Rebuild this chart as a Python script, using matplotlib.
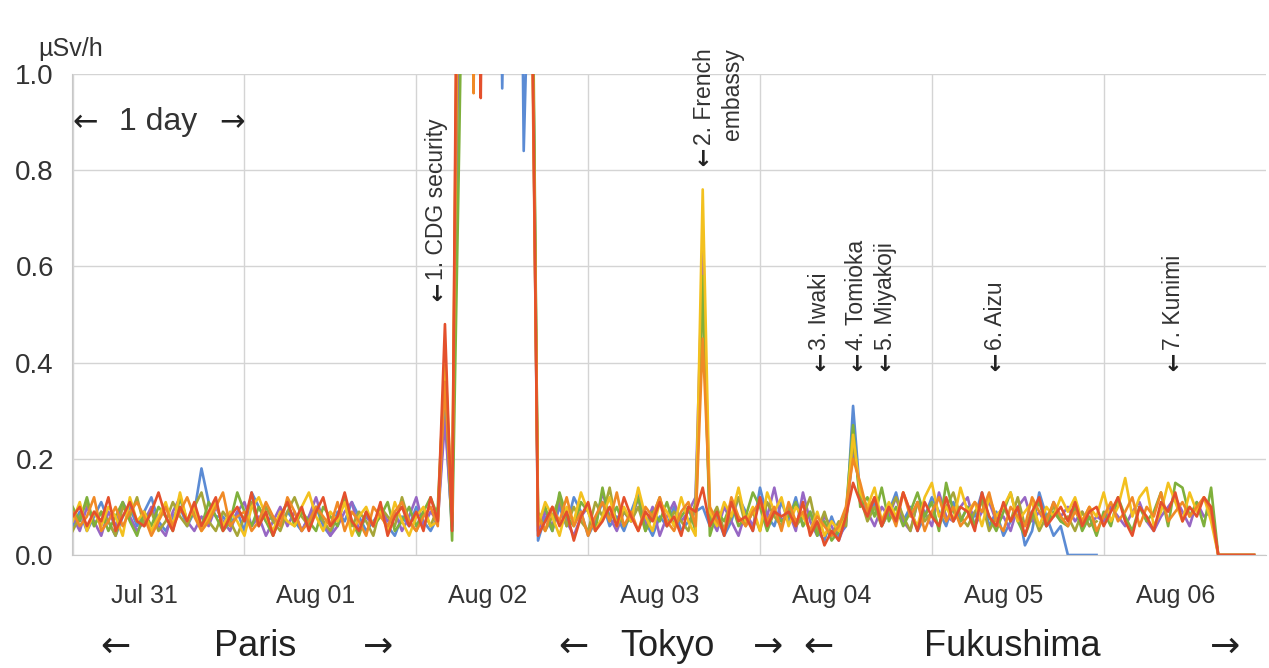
#!/usr/bin/env python3
import numpy as np
import matplotlib
matplotlib.use('Agg')
from matplotlib import pyplot as plt
import matplotlib.dates as mdates

# dose rate readings, hourly from Jul 31 00:00, in hundredths of uSv/h
# segments: Paris | CDG | flight | Tokyo | Fukushima
blue = ([6, 9, 5, 8, 11, 7, 4, 8, 10, 6, 9, 12, 7, 5, 8, 10, 6, 9, 18, 11,
         8, 8, 6, 9, 5, 13, 10, 7, 8, 6, 9, 7, 5, 8, 10, 6, 4, 9, 7, 11,
         8, 5, 7, 9, 6, 4, 8, 6, 10, 7, 5, 8]
        + [30, 5]
        + [150, 200, 250, 220, 190, 210, 97, 180, 240, 84, 140]
        + [3, 8, 5, 10, 6, 12, 9, 4, 7, 11, 6, 8, 5, 9, 13, 7, 4, 8, 6, 10, 5, 7, 9,
           10, 6, 8, 4, 7, 12, 9, 5, 14, 8, 6, 11]
        + [7, 12, 6, 9, 5, 3, 8, 4, 6, 31, 12,
           8, 11, 6, 9, 13, 7, 10, 5, 8, 12, 9, 6, 11, 7, 10, 8, 13, 6, 9, 4,
           7, 10, 2, 5, 13, 8, 4, 6, 0, 0, 0, 0, 0] + [None] * 22)
purple = ([8, 5, 10, 7, 4, 9, 6, 11, 8, 5, 7, 10, 6, 4, 9, 12, 7, 5, 8, 6,
           10, 7, 5, 9, 11, 6, 8, 4, 7, 10, 6, 9, 5, 8, 12, 7, 4, 6, 9, 11,
           5, 8, 6, 10, 7, 9, 5, 8, 12, 6, 9, 7]
          + [28, 6]
          + [120, 230, 260, 210, 240, 200, 230, 250, 220, 190, 150]
          + [5, 9, 6, 11, 7, 4, 8, 10, 6, 13, 8, 5, 9, 7, 12, 6, 10, 4, 8, 11, 7, 9, 12,
             63, 8, 5, 10, 7, 4, 9, 6, 12, 8, 14, 7]
          + [9, 5, 13, 7, 4, 8, 6, 3, 7, 22, 14,
             9, 6, 10, 8, 12, 7, 5, 11, 9, 6, 13, 8, 7, 10, 12, 6, 9, 11, 7, 8,
             5, 10, 12, 7, 9, 6, 11, 8, 10, 7, 9, 6, 8,
             7, 10, 8, 6, 9, 11, 7, 5, 8, 10, 12, 9, 6, 11, 8, 9, 0, 0, 0, 0, 0, 0])
green = ([10, 7, 12, 6, 9, 5, 8, 11, 7, 4, 9, 6, 10, 8, 5, 12, 7, 9, 6, 11,
          8, 5, 7, 13, 9, 6, 10, 7, 4, 8, 11, 6, 9, 7, 5, 10, 8, 6, 12, 7,
          4, 9, 6, 8, 11, 5, 7, 10, 6, 9, 12, 8]
         + [38, 3]
         + [86, 180, 240, 200, 260, 220, 190, 250, 230, 210, 160]
         + [7, 10, 5, 13, 8, 6, 11, 9, 5, 14, 7, 10, 6, 8, 12, 5, 9, 7, 11, 6, 8, 10, 5,
            58, 4, 9, 7, 11, 6, 8, 13, 10, 5, 9, 7]
         + [8, 11, 6, 9, 4, 7, 3, 5, 9, 27, 10,
            12, 8, 14, 7, 10, 6, 9, 13, 8, 11, 5, 15, 9, 7, 10, 6, 12, 8, 5, 9,
            13, 7, 4, 8, 11, 6, 9, 7, 6, 10, 5, 8, 4,
            9, 6, 12, 8, 5, 10, 7, 9, 13, 6, 15, 14, 8, 11, 6, 14, 0, 0, 0, 0, 0, 0])
olive = ([5, 8, 11, 6, 9, 7, 4, 10, 8, 12, 6, 9, 5, 7, 11, 8, 6, 10, 13, 7,
          5, 9, 7, 4, 8, 11, 6, 10, 7, 5, 9, 12, 8, 6, 10, 7, 5, 8, 11, 6,
          9, 7, 4, 10, 8, 6, 12, 7, 5, 9, 6, 10]
         + [40, 8]
         + [140, 210, 230, 250, 200, 240, 210, 230, 260, 220, 150]
         + [9, 5, 8, 12, 6, 10, 7, 5, 11, 8, 14, 6, 9, 7, 10, 5, 8, 12, 6, 9, 7, 5, 11,
            55, 7, 10, 5, 8, 12, 6, 9, 5, 11, 8, 6]
         + [10, 6, 8, 12, 5, 9, 4, 7, 6, 24, 12,
            7, 10, 6, 9, 12, 8, 5, 11, 7, 9, 6, 10, 13, 8, 6, 9, 11, 5, 8, 10,
            7, 12, 6, 9, 5, 8, 10, 7, 8, 5, 9, 6, 7] + [None] * 22)
yellow = ([7, 11, 5, 9, 6, 10, 8, 4, 12, 7, 9, 5, 8, 11, 6, 13, 7, 10, 5, 8,
           11, 6, 9, 7, 4, 10, 12, 8, 5, 9, 7, 6, 10, 13, 8, 5, 9, 7, 11, 4,
           8, 10, 6, 9, 5, 11, 7, 4, 8, 10, 6, 7]
          + [42, 9]
          + [170, 230, 200, 250, 220, 190, 240, 210, 230, 200, 140]
          + [6, 11, 8, 4, 10, 7, 13, 9, 5, 8, 12, 6, 10, 7, 14, 8, 5, 11, 9, 6, 12, 7, 4,
             76, 9, 6, 11, 8, 14, 7, 10, 5, 13, 9, 12]
          + [6, 10, 8, 5, 9, 4, 7, 5, 8, 25, 13,
             10, 14, 7, 11, 8, 13, 9, 6, 12, 15, 8, 10, 7, 14, 9, 11, 6, 12, 8, 10,
             13, 7, 9, 11, 6, 10, 8, 12, 9, 12, 7, 10, 8,
             13, 7, 10, 16, 8, 12, 14, 6, 9, 15, 11, 7, 13, 9, 12, 7, 0, 0, 0, 0, 0, 0])
orange = ([9, 6, 8, 12, 5, 7, 10, 6, 9, 11, 8, 4, 7, 10, 6, 9, 12, 8, 5, 7,
           10, 13, 6, 8, 9, 5, 7, 11, 8, 6, 12, 9, 5, 7, 10, 8, 6, 11, 5, 9,
           7, 4, 10, 8, 6, 9, 11, 7, 5, 8, 10, 6]
          + [36, 7]
          + [160, 220, 96, 240, 210, 250, 200, 230, 210, 240, 130]
          + [8, 5, 10, 7, 12, 6, 9, 4, 8, 11, 7, 13, 6, 9, 5, 10, 8, 12, 7, 5, 9, 11, 6,
             45, 10, 7, 5, 12, 8, 6, 9, 11, 7, 10, 5]
          + [11, 7, 9, 5, 8, 6, 4, 6, 10, 20, 15,
             9, 12, 7, 10, 6, 13, 8, 11, 5, 9, 12, 7, 10, 6, 8, 11, 9, 13, 7, 5,
             10, 8, 6, 12, 9, 7, 11, 8, 6, 9, 7, 10, 5,
             8, 11, 7, 9, 12, 6, 10, 8, 13, 7, 9, 11, 8, 10, 12, 9, 0, 0, 0, 0, 0, 0])
red = ([8, 10, 6, 9, 7, 12, 5, 8, 11, 7, 6, 9, 13, 8, 5, 10, 7, 11, 6, 9,
        12, 5, 8, 10, 7, 13, 6, 9, 4, 8, 11, 7, 10, 5, 9, 12, 6, 8, 13, 7,
        5, 9, 6, 11, 4, 8, 10, 6, 9, 5, 12, 7]
       + [48, 5]
       + [190, 250, 220, 95, 240, 210, 260, 230, 200, 250, 140]
       + [4, 7, 10, 6, 9, 3, 8, 11, 5, 7, 10, 6, 12, 8, 5, 9, 7, 11, 6, 8, 4, 10, 9,
          14, 6, 9, 4, 11, 7, 8, 5, 12, 6, 9, 8]
       + [9, 6, 11, 4, 7, 2, 5, 3, 8, 15, 11,
          8, 12, 6, 10, 7, 13, 9, 5, 11, 8, 6, 12, 7, 10, 9, 5, 13, 8, 6, 11,
          7, 10, 4, 9, 12, 6, 8, 10, 7, 11, 6, 9, 10,
          6, 9, 12, 7, 4, 10, 8, 5, 11, 9, 13, 7, 10, 8, 12, 10, 0, 0, 0, 0, 0, 0])

series = [
    (blue, '#5b8bd4'),
    (purple, '#9767c4'),
    (olive, '#a6a538'),
    (green, '#7fb03c'),
    (yellow, '#f3c11f'),
    (orange, '#f08a26'),
    (red, '#e4502c'),
]

# places, (time, label, arrow tip)
notes = [
    ('2011-08-02T02:50', '1. CDG security', 0.52),
    ('2011-08-03T16:00', '2. French\nembassy', 0.80),
    ('2011-08-04T08:20', '3. Iwaki', 0.375),
    ('2011-08-04T13:30', '4. Tomioka', 0.375),
    ('2011-08-04T17:30', '5. Miyakoji', 0.375),
    ('2011-08-05T08:50', '6. Aizu', 0.375),
    ('2011-08-06T09:45', '7. Kunimi', 0.375),
]

FONT = ['Liberation Sans', 'DejaVu Sans']
ARROWS = ['DejaVu Sans']
plt.rcParams['font.family'] = FONT

t = np.datetime64('2011-07-31T00:00') + np.arange(len(red)) * np.timedelta64(1, 'h')

fig = plt.figure(figsize=(12.69, 6.68), dpi=100)
ax = fig.add_axes([72 / 1269, 1 - 555 / 668, (1266 - 72) / 1269, (555 - 74) / 668])

for vals, col in series:
  y = np.array(vals, dtype=float) / 100.0
  ax.plot(t, y, color=col, lw=1.9)

ax.set_ylim(0, 1.0)
ax.set_xlim(np.datetime64('2011-07-30T23:55'), np.datetime64('2011-08-06T22:40'))
ax.set_yticks([0, 0.2, 0.4, 0.6, 0.8, 1.0])
ax.set_yticklabels(['0.0', '0.2', '0.4', '0.6', '0.8', '1.0'])

ax.xaxis.set_major_locator(mdates.DayLocator())
ax.xaxis.set_major_formatter(plt.NullFormatter())
ax.xaxis.set_minor_locator(mdates.HourLocator(byhour=[10]))
ax.xaxis.set_minor_formatter(mdates.DateFormatter('%b %d'))

ax.grid(True, which='major', color='#d4d4d4', lw=1)
ax.set_axisbelow(True)
ax.tick_params(axis='both', which='both', length=0)
ax.tick_params(axis='y', labelsize=20, pad=13, labelcolor='#333333')
ax.tick_params(axis='x', which='minor', labelsize=18, pad=21, labelcolor='#333333')
for s in ['top', 'right']:
  ax.spines[s].set_visible(False)
for s in ['left', 'bottom']:
  ax.spines[s].set_color('#c8c8c8')

for when, label, yv in notes:
  x = np.datetime64(when)
  ax.text(x, yv, '\u2193', ha='center', va='bottom', fontsize=16, color='#222222',
          family=ARROWS, fontweight='bold')
  nlines = label.count('\n')
  ax.annotate(label, (x, yv), xytext=(nlines * 11.5, 18), textcoords='offset points',
              rotation=90, ha='center', va='bottom', fontsize=16.5, color='#333333',
              multialignment='right', linespacing=1.25)

# one day scale
ax.text(np.datetime64('2011-07-31T00:00'), 0.9, '\u2190', ha='left', va='center',
        fontsize=22, color='#222222', family=ARROWS)
ax.text(np.datetime64('2011-07-31T12:00'), 0.9, '1 day', ha='center', va='center',
        fontsize=23, color='#333333')
ax.text(np.datetime64('2011-08-01T00:00'), 0.9, '\u2192', ha='right', va='center',
        fontsize=22, color='#222222', family=ARROWS)

fig.text(38 / 1269, 1 - 49 / 668, '\u00b5Sv/h', fontsize=18, color='#333333', va='center')

# where the readings were taken
ybot = 1 - 647 / 668
for xp, s in [(115, '\u2190'), (255, 'Paris'), (378, '\u2192'), (573, '\u2190'), (667, 'Tokyo'),
              (768, '\u2192'), (818, '\u2190'), (1012, 'Fukushima'), (1225, '\u2192')]:
  fam = ARROWS if s in ('\u2190', '\u2192') else FONT
  fig.text(xp / 1269, ybot, s, ha='center', va='center', fontsize=26, color='#222222', family=fam)

plt.savefig('out.png', dpi=100)
